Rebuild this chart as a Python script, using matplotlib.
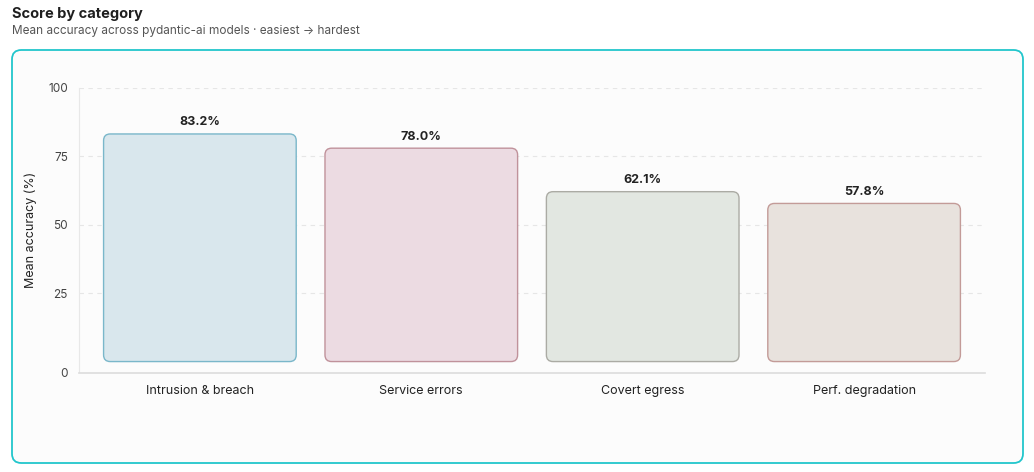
import matplotlib
matplotlib.use("Agg")
import matplotlib.pyplot as plt
from matplotlib.patches import FancyBboxPatch

plt.rcParams["font.family"] = ["Inter", "DejaVu Sans"]

categories = ["Intrusion & breach", "Service errors", "Covert egress", "Perf. degradation"]
scores = [83.2, 78.0, 62.1, 57.8]
fills = ["#d9e7ed", "#ecdbe2", "#e2e7e1", "#e8e2dd"]
edges = ["#7ab7ca", "#c0929b", "#ababa4", "#c39b98"]
yticks = [0, 25, 50, 75, 100]

W, H = 1034, 472
fig = plt.figure(figsize=(W / 100, H / 100), dpi=100)
fig.patch.set_facecolor("white")

# card frame, kept behind the axes
card = FancyBboxPatch((12 / W, (H - 463) / H), (1023 - 12) / W, (463 - 50) / H,
                      boxstyle="round,pad=0,rounding_size=0.009",
                      transform=fig.transFigure, facecolor="#fcfcfc",
                      edgecolor="#22c6cc", linewidth=1.3, mutation_aspect=W / H,
                      zorder=-10)
fig.add_artist(card)

fig.text(12 / W, 1 - 14 / H, "Score by category", fontsize=10.5, fontweight="bold",
         color="#1f1f1f", va="center", ha="left")
fig.text(12 / W, 1 - 31 / H, "Mean accuracy across pydantic-ai models \u00b7 easiest \u2192 hardest",
         fontsize=8.5, color="#555555", va="center", ha="left")

ax_l, ax_r, ax_t, ax_b = 79, 985, 88, 372.5
ax = fig.add_axes([ax_l / W, 1 - ax_b / H, (ax_r - ax_l) / W, (ax_b - ax_t) / H])
ax.set_facecolor("none")
ax.set_xlim(-0.546, 3.546)
ymin = -4.0
ax.set_ylim(ymin, 100)

for y in yticks[1:]:
    ax.axhline(y, color="#e6e6e6", linewidth=0.8, linestyle=(0, (4, 4)), zorder=0)

bw = 0.87
asp = (100 - ymin) / 284.5 / (4.092 / 906)
for i, (v, fc, ec) in enumerate(zip(scores, fills, edges)):
    p = FancyBboxPatch((i - bw / 2, 0), bw, v,
                       boxstyle="round,pad=0,rounding_size=0.03",
                       mutation_aspect=asp,
                       facecolor=fc, edgecolor=ec, linewidth=1.0, zorder=2)
    ax.add_patch(p)
    ax.annotate(f"{v:.1f}%", (i, v), xytext=(0, 8.3), textcoords="offset points",
                ha="center", va="center", fontsize=9, fontweight="bold", color="#222222")

ax.set_xticks(range(len(categories)))
ax.set_xticklabels(categories, fontsize=9, color="#222222")
# the "0" label sits on the baseline at the bottom of the axis
ax.set_yticks([ymin] + yticks[1:])
ax.set_yticklabels([str(t) for t in yticks], fontsize=8.5, color="#444444")
ax.tick_params(axis="both", length=0)
ax.tick_params(axis="x", pad=9)
ax.tick_params(axis="y", pad=8)
ax.set_ylabel("Mean accuracy (%)", fontsize=9, color="#222222")
ax.yaxis.set_label_coords((37 - ax_l) / (ax_r - ax_l), 0.5)

for s in ["top", "right"]:
    ax.spines[s].set_visible(False)
ax.spines["left"].set_color("#e8e8e8")
ax.spines["bottom"].set_color("#dcdcdc")
ax.spines["bottom"].set_linewidth(1.2)

fig.savefig("out.png", dpi=100, facecolor="white")
